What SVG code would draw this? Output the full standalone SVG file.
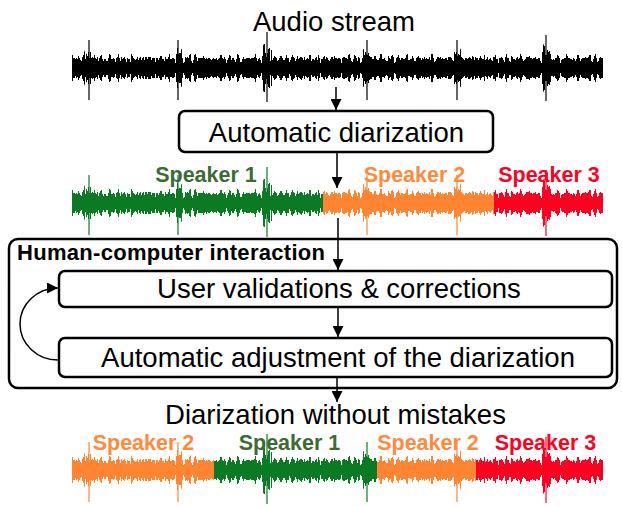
<svg xmlns="http://www.w3.org/2000/svg" width="622" height="507" viewBox="0 0 622 507">
<defs>
<style>
.t{font-family:"Liberation Sans",Arial,sans-serif;font-size:27.5px;fill:#000;text-anchor:middle}
.sp{font-family:"Liberation Sans",Arial,sans-serif;font-size:21.5px;font-weight:bold;text-anchor:middle}
.hl{font-family:"Liberation Sans",Arial,sans-serif;font-size:22px;font-weight:bold;fill:#000}
.box{fill:#fff;stroke:#000;stroke-width:2.5}
.c{stroke:#000;stroke-width:1.5;fill:none}
.lg{fill:#3C6B34}.lo{fill:#FF8A3D}.lr{fill:#FF0020}
</style>
<marker id="ah" markerUnits="userSpaceOnUse" markerWidth="11" markerHeight="11" refX="10" refY="5" orient="auto" viewBox="0 0 10 10">
<path d="M0,0 L10,5 L0,10 z" fill="#000"/>
</marker>
<linearGradient id="vg" x1="0" y1="0" x2="0" y2="1"><stop offset="0" stop-color="#fff"/><stop offset="0.5" stop-color="#000"/><stop offset="1" stop-color="#fff"/></linearGradient>
<radialGradient id="rg"><stop offset="0" stop-color="#000"/><stop offset="1" stop-color="#fff"/></radialGradient>
<filter id="wf" x="0" y="0" width="1" height="1" color-interpolation-filters="sRGB">
<feTurbulence type="fractalNoise" baseFrequency="0.35 0" numOctaves="3" seed="7" result="nz"/>
<feColorMatrix in="nz" type="matrix" values="0 0 0 0 0  0 0 0 0 0  0 0 0 0 0  1 0 0 0 0" result="na"/>
<feColorMatrix in="SourceGraphic" type="matrix" values="0 0 0 0 0  0 0 0 0 0  0 0 0 0 0  1 0 0 0 0" result="ga"/>
<feComposite in="na" in2="ga" operator="arithmetic" k1="0" k2="1.4" k3="-1" k4="0.5" result="s"/>
<feComponentTransfer in="s" result="th"><feFuncA type="discrete" tableValues="0 1"/></feComponentTransfer>
<feFlood flood-color="#fff" result="w"/>
<feComposite in="w" in2="th" operator="in" result="wt"/>
<feComposite in="wt" in2="SourceAlpha" operator="in"/>
</filter>
<mask id="wm" maskUnits="userSpaceOnUse" x="0" y="20" width="622" height="100">
<rect x="72" y="54" width="531" height="28" fill="url(#vg)" filter="url(#wf)"/>
<rect x="72" y="63" width="531" height="10" fill="#fff"/>
<g fill="url(#rg)" filter="url(#wf)">
<ellipse cx="89" cy="68" rx="7" ry="22"/>
<ellipse cx="178" cy="68" rx="7" ry="22"/>
<ellipse cx="267" cy="68" rx="8" ry="26"/>
<ellipse cx="367" cy="68" rx="7" ry="22"/>
<ellipse cx="457" cy="68" rx="7" ry="22"/>
<ellipse cx="546" cy="68" rx="8" ry="25"/>
</g>
<g stroke="#fff" stroke-width="1.2">
<line x1="89" y1="40" x2="89" y2="100"/>
<line x1="178" y1="40" x2="178" y2="100"/>
<line x1="267" y1="32" x2="267" y2="102"/>
<line x1="367" y1="40" x2="367" y2="100"/>
<line x1="457" y1="40" x2="457" y2="100"/>
<line x1="546" y1="35" x2="546" y2="101"/>
</g>
</mask>
</defs>
<rect width="622" height="507" fill="#fff"/>

<g id="audio-stream">
<text class="t" x="334" y="31">Audio stream</text>
<g mask="url(#wm)"><rect x="72" y="20" width="531" height="100" fill="#000"/></g>
</g>

<g id="automatic-diarization">
<rect class="box" x="179" y="111" width="314" height="41" rx="6"/>
<text class="t" x="336.5" y="142">Automatic diarization</text>
</g>

<g id="diarized-stream">
<g transform="translate(0,135)"><g mask="url(#wm)">
<rect x="72" y="20" width="251" height="100" fill="#0A7B22"/>
<rect x="323" y="20" width="171" height="100" fill="#FF8533"/>
<rect x="494" y="20" width="109" height="100" fill="#FF0020"/>
</g></g>
<text class="sp lg" x="206" y="182">Speaker 1</text>
<text class="sp lo" x="414.5" y="182">Speaker 2</text>
<text class="sp lr" x="549" y="182">Speaker 3</text>
</g>

<g id="human-computer-interaction">
<rect class="box" x="9" y="239" width="608" height="149" rx="9"/>
<text class="hl" x="17" y="260" textLength="308">Human-computer interaction</text>
</g>

<g id="user-validations">
<rect class="box" x="59" y="271" width="553" height="36" rx="6"/>
<text class="t" x="339" y="298">User validations &amp; corrections</text>
</g>

<g id="automatic-adjustment">
<rect class="box" x="59" y="338" width="553" height="39" rx="6"/>
<text class="t" x="338" y="367">Automatic adjustment of the diarization</text>
</g>

<g id="final-diarization">
<text class="t" x="335.5" y="424">Diarization without mistakes</text>
<g transform="translate(0,402)"><g mask="url(#wm)">
<rect x="72" y="20" width="142" height="100" fill="#FF8533"/>
<rect x="214" y="20" width="163" height="100" fill="#0A7B22"/>
<rect x="377" y="20" width="99" height="100" fill="#FF8533"/>
<rect x="476" y="20" width="127" height="100" fill="#FF0020"/>
</g></g>
<text class="sp lo" x="143.5" y="450">Speaker 2</text>
<text class="sp lg" x="289.5" y="450">Speaker 1</text>
<text class="sp lo" x="428" y="450">Speaker 2</text>
<text class="sp lr" x="545.5" y="450">Speaker 3</text>
</g>

<g id="connectors">
<line class="c" x1="336" y1="87" x2="336" y2="110" marker-end="url(#ah)"/>
<line class="c" x1="337" y1="153" x2="337" y2="188" marker-end="url(#ah)"/>
<line class="c" x1="338" y1="218" x2="338" y2="270" marker-end="url(#ah)"/>
<line class="c" x1="338" y1="308" x2="338" y2="337" marker-end="url(#ah)"/>
<line class="c" x1="337" y1="378" x2="337" y2="402" marker-end="url(#ah)"/>
<path class="c" d="M58,360 A38 36 0 0 1 58,288" stroke-width="1.3" marker-end="url(#ah)"/>
</g>
</svg>
